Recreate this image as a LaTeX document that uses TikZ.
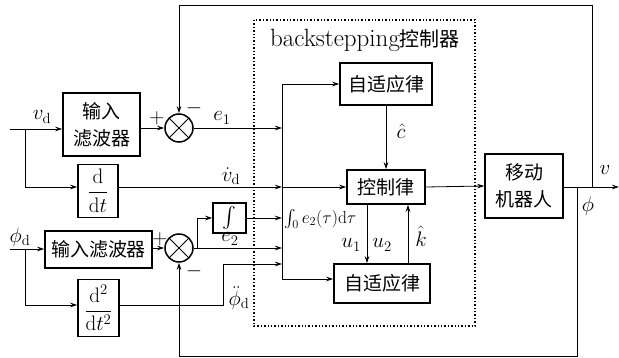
\RequirePackage{fix-cm}
\documentclass[tikz,border=0pt]{standalone}
\usepackage{fontspec}
\usepackage{amsmath}
\newfontfamily\cjk{Noto Sans CJK SC}
\usetikzlibrary{arrows.meta, positioning, calc}

\begin{document}
\begin{tikzpicture}[
    x=1pt, y=-1pt,
    every node/.style={font=\fontsize{21}{26}\selectfont},
    block/.style={rectangle, draw, line width=1.5pt, inner sep=0pt,
                  align=center, font=\fontsize{19}{27}\selectfont\cjk},
    mblock/.style={rectangle, draw, line width=1.5pt, inner sep=0pt,
                   font=\fontsize{21}{25}\selectfont},
    summer/.style={circle, draw, line width=1.5pt, minimum size=28pt, inner sep=0pt,
                   path picture={
                     \draw[line width=1pt] (path picture bounding box.north west) -- (path picture bounding box.south east)
                                           (path picture bounding box.north east) -- (path picture bounding box.south west);}},
    sig/.style={-{Stealth[length=7pt,width=4.5pt]}, line width=0.8pt},
    lbl/.style={inner sep=0pt}
]
\useasboundingbox (0,0) rectangle (619,358);

%% -- controller frame --------------------------------------------------------
\draw[dotted, line width=1.4pt] (254,20) rectangle (475,326);
\node[lbl, font=\fontsize{25}{30}\selectfont] (title) at (365,40) {backstepping{\fontsize{20}{24}\selectfont\cjk 控制器}};

%% -- blocks ------------------------------------------------------------------
\node[block, minimum width=77pt, minimum height=63pt] (filt1) at (101.5,124.5) {输入\\滤波器};
\node[mblock, minimum width=40pt, minimum height=53pt] (ddt)  at (98,191) {$\dfrac{\mathrm{d}}{\mathrm{d}t}$};
\node[block, minimum width=107pt, minimum height=37pt] (filt2) at (98.5,249.5) {输入滤波器};
\node[mblock, minimum width=41pt, minimum height=57pt] (dd2)  at (98.5,308) {$\dfrac{\mathrm{d}^2}{\mathrm{d}t^2}$};
\node[summer] (sum1) at (179,128) {};
\node[summer] (sum2) at (179,248) {};
\node[mblock, minimum width=33pt, minimum height=30pt] (intg) at (229.5,218) {$\int$};
\node[block, minimum width=92pt, minimum height=42pt] (adapt1) at (386,84) {自适应律};
\node[block, minimum width=78pt, minimum height=34pt] (ctrl)   at (386,187) {控制律};
\node[block, minimum width=96pt, minimum height=39pt] (adapt2) at (382,283.5) {自适应律};
\node[block, minimum width=78pt, minimum height=64pt] (robot)  at (524,186) {移动\\机器人};

%% -- points ------------------------------------------------------------------
\coordinate (in1)  at (10,129);
\coordinate (in2)  at (10,249);
\coordinate (br1)  at (25,129);
\coordinate (br2)  at (25,249);
\coordinate (br3)  at (197,248);
\coordinate (pdd)  at (223,264);
\coordinate (busB) at (282,279);
\coordinate (vrow) at (282,187);
\coordinate (prow) at (20,305);
\coordinate (bphi) at (577,187);
\coordinate (bv)   at (592,187);
\coordinate (out)  at (619,187);

%% -- connectors --------------------------------------------------------------
\draw[sig]  (in1) -- (filt1.west |- in1);
\draw[sig]  (br1) |- (ddt.west |- vrow);
\draw[sig]  (filt1.east |- sum1) -- (sum1.west);
\draw[sig]  (in2) -- (filt2.west |- in2);
\draw[sig]  (br2) |- (dd2.west |- prow);
\draw[sig]  (filt2.east |- sum2) -- (sum2.west);
\draw[sig]  (sum1.east) -- (sum1.east -| busB);
\draw[sig]  (ddt.east |- vrow) -- (vrow);
\draw[sig]  (br3) |- (intg.west);
\draw[sig]  (intg.east) -- (intg.east -| busB);
\draw[sig]  (sum2.east) -- (sum2.east -| busB);
\draw[sig]  (dd2.east |- prow) -| (pdd) -- (pdd -| busB);
\draw[sig]  (busB) |- (adapt1.west);
\draw[sig]  (busB) -- (busB -| adapt2.west);
\draw[sig]  (vrow) -- (ctrl.west);
\draw[sig]  (adapt1.south) -- (ctrl.north);
\draw[sig]  ([xshift=-19pt]ctrl.south) -- ([xshift=-19pt]ctrl.south |- adapt2.north);
\draw[sig]  ([xshift=22pt]ctrl.south |- adapt2.north) -- ([xshift=22pt]ctrl.south);
\draw[sig]  (ctrl.east) -- (robot.west);
\draw[sig]  (robot.east |- out) -- (out);
\draw[sig]  (bv) -- ++(0,-182) -| (sum1.north);
\draw[sig]  (bphi) -- ++(0,169) -| (sum2.south);

%% -- labels ------------------------------------------------------------------
\node[lbl] (lvd)   at (42,117)  {$v_{\mathrm{d}}$};
\node[lbl] (lphd)  at (20,237)  {$\phi_{\mathrm{d}}$};
\node[lbl] (le1)   at (222,118) {$e_1$};
\node[lbl] (lvdd)  at (231,176) {$\dot{v}_{\mathrm{d}}$};
\node[lbl] (le2)   at (230,239) {$e_2$};
\node[lbl] (lphdd) at (239,298) {$\ddot{\phi}_{\mathrm{d}}$};
\node[lbl, anchor=west, font=\fontsize{17.5}{21}\selectfont] (lint) at (284,219) {$\int_0 e_2(\tau)\mathrm{d}\tau$};
\node[lbl] (lu1)   at (351,245) {$u_1$};
\node[lbl] (lu2)   at (382,245) {$u_2$};
\node[lbl] (lk)    at (421,236) {$\hat{k}$};
\node[lbl] (lc)    at (401,131) {$\hat{c}$};
\node[lbl] (lv)    at (605,170) {$v$};
\node[lbl] (lphi)  at (588,206) {$\phi$};
\node[lbl] (p1)    at (157,118) {$+$};
\node[lbl] (m1)    at (194,108) {$-$};
\node[lbl] (p2)    at (160,239) {$+$};
\node[lbl] (m2)    at (194,271) {$-$};

\end{tikzpicture}
\end{document}
